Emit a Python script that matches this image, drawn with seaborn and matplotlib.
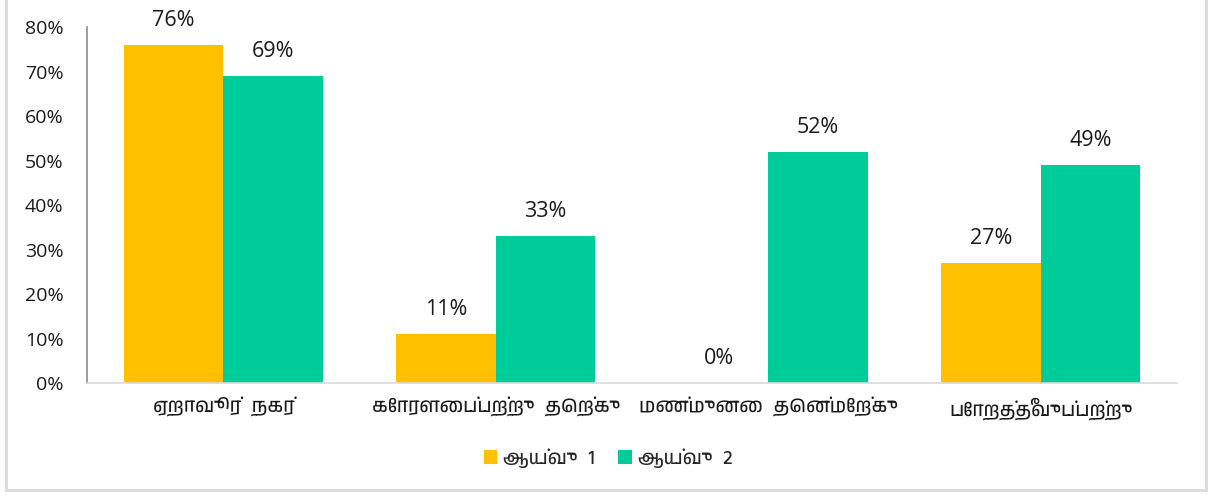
import numpy as np
import pandas as pd
import matplotlib
matplotlib.use('Agg')
import matplotlib.pyplot as plt
from matplotlib import font_manager
from matplotlib.lines import Line2D
from matplotlib.patches import Patch
import seaborn as sns

# Data
areas = ['ஏறாவூர்  நகர்', 'கோரளைப்பற்று  தெற்கு', 'மண்முனை  தென்மேற்கு', 'போறத்தீவுப்பற்று']
survey_names = ['ஆய்வு  1', 'ஆய்வு  2']
survey1 = [76, 11, 0, 27]
survey2 = [69, 33, 52, 49]
y_ticks = [0, 10, 20, 30, 40, 50, 60, 70, 80]

colors = ['#FFC000', '#00CC99']

df = pd.DataFrame({
    'area': areas * 2,
    'survey': [survey_names[0]] * len(areas) + [survey_names[1]] * len(areas),
    'value': survey1 + survey2,
})

sns.set_style('white')

# look for any Tamil-capable font, fall back to DejaVu
tamil_fonts = sorted({f.name for f in font_manager.fontManager.ttflist if 'Tamil' in f.name})
tamil_family = tamil_fonts + ['Noto Sans', 'DejaVu Sans']
plt.rcParams['font.family'] = ['Open Sans', 'DejaVu Sans']

fig = plt.figure(figsize=(12.16, 4.95), dpi=100)
ax = fig.add_axes([0.0715, 0.226, 0.8965, 0.719])

sns.barplot(data=df, x='area', y='value', hue='survey', palette=colors,
            width=0.73, saturation=1, linewidth=0, ax=ax, legend=False)

ax.set_ylim(0, 80)
ax.set_yticks(y_ticks)
ax.set_yticklabels([f'{t}%' for t in y_ticks], fontsize=14, color='#1a1a1a')
ax.set_xticks(range(len(areas)))
ax.set_xticklabels(areas, fontsize=14, family=tamil_family, color='#1a1a1a')
ax.tick_params(axis='x', length=0, pad=10)
ax.tick_params(axis='y', length=0, pad=17)
ax.set_xlabel('')
ax.set_ylabel('')

for s in ['top', 'right']:
    ax.spines[s].set_visible(False)
ax.spines['left'].set_color('#8c8c8c')
ax.spines['left'].set_linewidth(1.2)
ax.spines['bottom'].set_color('#d9d9d9')
ax.spines['bottom'].set_linewidth(1.2)

for cont in ax.containers:
    ax.bar_label(cont, labels=[f'{v:.0f}%' for v in cont.datavalues],
                 padding=10, fontsize=15.5, color='#1a1a1a')

handles = [Patch(facecolor=c, edgecolor='none') for c in colors]
leg = fig.legend(handles, survey_names, loc='center', bbox_to_anchor=(0.5, 0.075),
                 ncol=2, frameon=False, handlelength=0.7, handleheight=0.7,
                 handletextpad=0.3, columnspacing=1.2, prop={'family': tamil_family, 'size': 14})

# light frame around the chart area
frame_kw = dict(color='#d9d9d9', linewidth=2, transform=fig.transFigure)
fig.add_artist(Line2D([6 / 1216, 6 / 1216], [1 - 490 / 495, 1], **frame_kw))
fig.add_artist(Line2D([1206 / 1216, 1206 / 1216], [1 - 490 / 495, 1], **frame_kw))
fig.add_artist(Line2D([6 / 1216, 1206 / 1216], [1 - 490 / 495, 1 - 490 / 495], **frame_kw))

fig.savefig('out.png', dpi=100)
